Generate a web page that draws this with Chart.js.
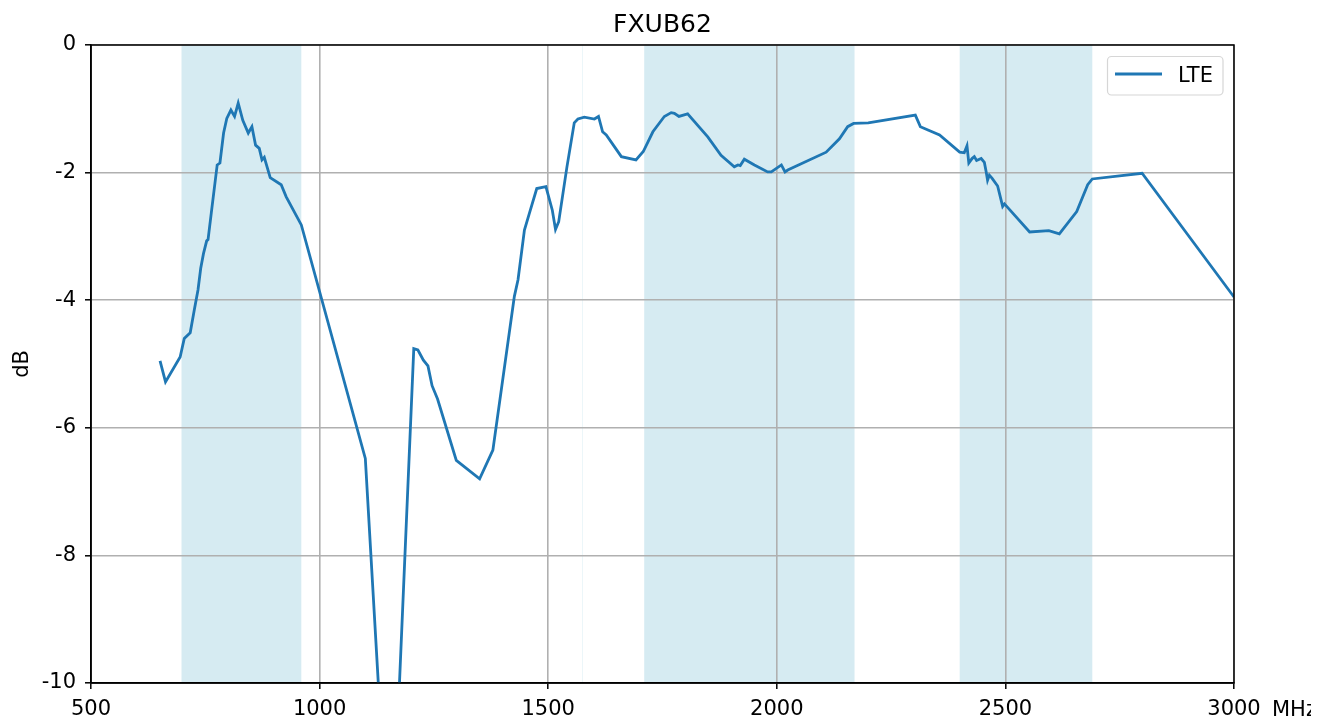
<!DOCTYPE html>
<html>
<head>
<meta charset="utf-8">
<script src="https://cdn.jsdelivr.net/npm/chart.js@4.4.1/dist/chart.umd.min.js"></script>
<style>
  body { margin: 0; background: #fff; }
  #wrap { width: 1327px; height: 722px; }
</style>
</head>
<body>
<div id="wrap"><canvas id="chart"></canvas></div>
<script>
var freq = [651, 663, 695, 704, 717, 726, 734, 740, 746, 753, 756, 763, 776, 782, 790, 797, 806, 814, 822, 832,
    844, 852, 860, 868, 874, 879, 892, 916, 927, 960, 1100, 1155, 1206, 1215, 1227, 1237, 1246, 1258, 1299, 1350,
    1379, 1426, 1434, 1448, 1458, 1475, 1495, 1509, 1516, 1523, 1541, 1557, 1565, 1579, 1601, 1610, 1619, 1627, 1660, 1692,
    1708, 1729, 1754, 1769, 1776, 1786, 1805, 1849, 1878, 1907, 1915, 1920, 1929, 1951, 1980, 1988, 2010, 2018, 2024, 2108,
    2137, 2155, 2168, 2200, 2303, 2314, 2356, 2400, 2410, 2416, 2420, 2427, 2432, 2437, 2447, 2454, 2458, 2461, 2465, 2471,
    2483, 2494, 2498, 2553, 2595, 2618, 2656, 2680, 2690, 2799, 3000];
var gain = [-4.95, -5.28, -4.89, -4.60, -4.51, -4.15, -3.84, -3.50, -3.27, -3.07, -3.05, -2.64, -1.88, -1.85, -1.38, -1.15, -1.02, -1.12, -0.91, -1.18,
    -1.38, -1.28, -1.57, -1.62, -1.80, -1.76, -2.08, -2.19, -2.38, -2.82, -6.48, -13.3, -4.76, -4.78, -4.94, -5.03, -5.34, -5.55, -6.51, -6.80,
    -6.35, -3.94, -3.68, -2.90, -2.66, -2.25, -2.22, -2.59, -2.89, -2.77, -1.91, -1.22, -1.16, -1.13, -1.16, -1.12, -1.36, -1.41, -1.75, -1.80,
    -1.67, -1.36, -1.12, -1.06, -1.07, -1.12, -1.08, -1.44, -1.73, -1.91, -1.88, -1.89, -1.79, -1.88, -1.99, -1.99, -1.88, -1.99, -1.96, -1.68,
    -1.47, -1.28, -1.23, -1.22, -1.10, -1.28, -1.41, -1.68, -1.69, -1.58, -1.85, -1.78, -1.75, -1.81, -1.78, -1.84, -1.99, -2.12, -2.04, -2.09,
    -2.21, -2.53, -2.49, -2.93, -2.91, -2.96, -2.61, -2.19, -2.10, -2.01, -3.95];

// LTE bands (MHz) shaded behind the curve, plus the thin GPS L1 sliver
var bands = [[698, 960], [1575, 1576], [1710, 2170], [2400, 2690]];

var xTicks = [500, 1000, 1500, 2000, 2500, 3000];
var yTicks = [0, -2, -4, -6, -8, -10];

var FONT = "'DejaVu Sans', sans-serif";
Chart.defaults.font.family = FONT;
Chart.defaults.font.size = 21;
Chart.defaults.color = '#000';

var extras = {
    id: 'extras',
    beforeDraw: function (chart) {
        var c = chart.ctx, a = chart.chartArea, xs = chart.scales.x;
        c.save();
        c.fillStyle = 'rgba(173,216,230,0.5)';
        bands.forEach(function (b) {
            var x0 = xs.getPixelForValue(b[0]);
            var x1 = xs.getPixelForValue(b[1]);
            c.fillRect(x0, a.top, x1 - x0, a.bottom - a.top);
        });
        c.restore();
    },
    afterDatasetsDraw: function (chart) {
        var c = chart.ctx, a = chart.chartArea;
        c.save();
        c.strokeStyle = '#000';
        c.lineWidth = 1.5;
        c.strokeRect(a.left, a.top, a.right - a.left, a.bottom - a.top);
        c.restore();
    },
    afterDraw: function (chart) {
        var c = chart.ctx, a = chart.chartArea;
        var ds = chart.data.datasets[0];
        c.save();
        c.fillStyle = '#000';
        // title
        c.font = '25px ' + FONT;
        c.textAlign = 'center';
        c.textBaseline = 'alphabetic';
        c.fillText('FXUB62', (a.left + a.right) / 2, 32);
        // y label
        c.font = '21px ' + FONT;
        c.save();
        c.translate(28, (a.top + a.bottom) / 2);
        c.rotate(-Math.PI / 2);
        c.fillText('dB', 0, 0);
        c.restore();
        // x unit, cut at the figure edge like the source
        c.save();
        c.beginPath();
        c.rect(0, 0, 1311, 722);
        c.clip();
        c.textAlign = 'left';
        c.fillText('MHz', a.right + 38, 716);
        c.restore();
        // legend
        var lx = 1107.5, ly = 56.5, lw = 115.5, lh = 38.5, r = 4;
        c.beginPath();
        c.moveTo(lx + r, ly);
        c.arcTo(lx + lw, ly, lx + lw, ly + lh, r);
        c.arcTo(lx + lw, ly + lh, lx, ly + lh, r);
        c.arcTo(lx, ly + lh, lx, ly, r);
        c.arcTo(lx, ly, lx + lw, ly, r);
        c.closePath();
        c.fillStyle = 'rgba(255,255,255,0.8)';
        c.fill();
        c.strokeStyle = '#d6d6d6';
        c.lineWidth = 1.2;
        c.stroke();
        c.beginPath();
        c.moveTo(1115, 74);
        c.lineTo(1162, 74);
        c.strokeStyle = ds.borderColor;
        c.lineWidth = ds.borderWidth;
        c.stroke();
        c.fillStyle = '#000';
        c.textAlign = 'left';
        c.fillText(ds.label, 1178, 82);
        c.restore();
    }
};

var ctx = document.getElementById('chart').getContext('2d');
var myChart = new Chart(ctx, {
    type: 'line',
    data: {
        datasets: [{
            label: 'LTE',
            data: freq.map(function (f, i) { return { x: f, y: gain[i] }; }),
            borderColor: '#1f77b4',
            borderWidth: 2.8,
            pointRadius: 0,
            tension: 0,
            fill: false
        }]
    },
    options: {
        responsive: true,
        maintainAspectRatio: false,
        animation: false,
        layout: { padding: { top: 45, right: 93, left: 0, bottom: 0 } },
        plugins: {
            legend: { display: false },
            title: { display: false },
            tooltip: { enabled: false }
        },
        scales: {
            x: {
                type: 'linear',
                min: 500,
                max: 3000,
                afterFit: function (s) { s.height = 39; },
                afterBuildTicks: function (s) { s.ticks = xTicks.map(function (v) { return { value: v }; }); },
                ticks: {
                    padding: 8,
                    maxRotation: 0,
                    callback: function (v) { return String(v); }
                },
                grid: { color: '#b0b0b0', lineWidth: 1.6, tickColor: '#000', tickLength: 6, tickWidth: 1.5 },
                border: { color: '#000', width: 1.5 }
            },
            y: {
                min: -10,
                max: 0,
                afterFit: function (s) { s.width = 91; },
                afterBuildTicks: function (s) { s.ticks = yTicks.map(function (v) { return { value: v }; }); },
                ticks: {
                    padding: 9,
                    callback: function (v) { return String(v); }
                },
                grid: { color: '#b0b0b0', lineWidth: 1.6, tickColor: '#000', tickLength: 6, tickWidth: 1.5 },
                border: { color: '#000', width: 1.5 }
            }
        }
    },
    plugins: [extras]
});
</script>
</body>
</html>
